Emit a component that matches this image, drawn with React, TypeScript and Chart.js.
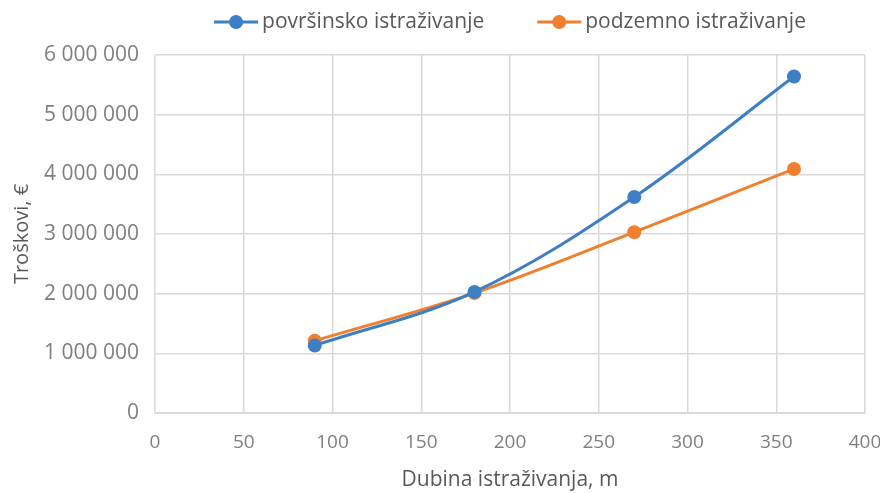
import React, { useEffect, useRef } from "react";
import { Chart, registerables } from "chart.js";

Chart.register(...registerables);

const depths = [90, 180, 270, 360];
const surfaceCosts = [1130000, 2030000, 3620000, 5640000];
const undergroundCosts = [1210000, 2010000, 3030000, 4090000];
const seriesNames = ["površinsko istraživanje", "podzemno istraživanje"];
const seriesColors = ["#3d7fc4", "#f07f2e"];
const xTitle = "Dubina istraživanja, m";
const yTitle = "Troškovi, €";

const FONT = "'Open Sans', Lato, sans-serif";

function fmt(v: number): string {
  return String(Math.round(v)).replace(/\B(?=(\d{3})+(?!\d))/g, " ");
}

// Custom legend: line + marker icon, centred over the plot area
const lineLegend = {
  id: "lineLegend",
  afterDraw(chart: any) {
    const ctx = chart.ctx;
    const area = chart.chartArea;
    const iconW = 44;
    const gapText = 4;
    const gapItems = 53;
    const y = 22;
    ctx.save();
    ctx.font = `21px ${FONT}`;
    const items = chart.data.datasets.map((ds: any) => ({
      label: ds.label as string,
      color: ds.borderColor as string,
      w: ctx.measureText(ds.label).width,
    }));
    const total =
      items.reduce((s: number, it: any) => s + iconW + gapText + it.w, 0) +
      gapItems * (items.length - 1);
    let x = (area.left + area.right) / 2 - total / 2;
    for (const it of items) {
      ctx.strokeStyle = it.color;
      ctx.lineWidth = 3;
      ctx.beginPath();
      ctx.moveTo(x, y);
      ctx.lineTo(x + iconW, y);
      ctx.stroke();
      ctx.fillStyle = it.color;
      ctx.beginPath();
      ctx.arc(x + iconW / 2, y, 7, 0, Math.PI * 2);
      ctx.fill();
      ctx.fillStyle = "#595959";
      ctx.textBaseline = "middle";
      ctx.textAlign = "left";
      ctx.fillText(it.label, x + iconW + gapText, y);
      x += iconW + gapText + it.w + gapItems;
    }
    ctx.restore();
  },
};

export default function App() {
  const ref = useRef<HTMLCanvasElement>(null);
  useEffect(() => {
    document.body.style.margin = "0";
    const mk = (vals: number[], i: number) => ({
      label: seriesNames[i],
      data: depths.map((d, k) => ({ x: d, y: vals[k] })),
      borderColor: seriesColors[i],
      backgroundColor: seriesColors[i],
      borderWidth: 3,
      pointRadius: 7,
      pointHoverRadius: 7,
      pointBorderWidth: 0,
      tension: 0.35,
      fill: false,
    });
    const chart = new Chart(ref.current!, {
      type: "line",
      data: { datasets: [mk(surfaceCosts, 0), mk(undergroundCosts, 1)] },
      plugins: [lineLegend],
      options: {
        animation: false,
        responsive: false,
        layout: { padding: { left: 0, right: 0, top: 55, bottom: 0 } },
        plugins: {
          tooltip: { enabled: false },
          legend: { display: false },
        },
        scales: {
          x: {
            type: "linear",
            min: 0,
            max: 400,
            ticks: { stepSize: 50, color: "#7f7f7f", font: { family: FONT, size: 19 }, padding: 18 },
            grid: { color: "#d9d9d9", lineWidth: 1.5, drawTicks: false },
            border: { color: "#d9d9d9" },
            title: { display: true, text: xTitle, color: "#595959", font: { family: FONT, size: 21 }, padding: { top: 4, bottom: 0 } },
            afterFit: (s: any) => {
              s.height = 80;
              s.paddingRight = 15;
              s.paddingLeft = 0;
            },
          },
          y: {
            min: 0,
            max: 6000000,
            ticks: {
              stepSize: 1000000,
              color: "#7f7f7f",
              font: { family: FONT, size: 21 },
              padding: 16,
              callback: (v: any) => fmt(Number(v)),
            },
            grid: { color: "#d9d9d9", lineWidth: 1.5, drawTicks: false },
            border: { display: false },
            title: { display: true, text: yTitle, color: "#595959", font: { family: FONT, size: 20 }, padding: { top: 10, bottom: 4 } },
            afterFit: (s: any) => {
              s.width = 155;
              s.paddingTop = 0;
              s.paddingBottom = 0;
            },
          },
        },
      },
    } as any);
    return () => chart.destroy();
  }, []);
  return (
    <div style={{ width: 880, height: 493 }}>
      <canvas ref={ref} width={880} height={493} />
    </div>
  );
}
